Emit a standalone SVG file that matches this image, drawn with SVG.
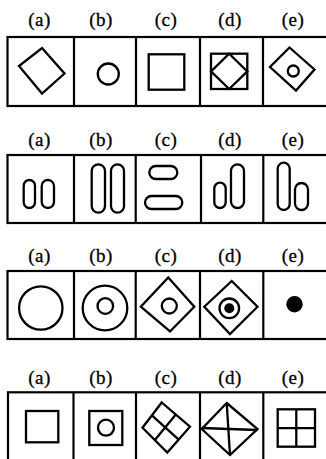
<svg xmlns="http://www.w3.org/2000/svg" width="326" height="459" viewBox="0 0 326 459">
<style>
.bg{fill:#fff}
.frame{fill:none;stroke:#000;stroke-width:2.2}
.s{fill:none;stroke:#000;stroke-width:2.3;stroke-linejoin:miter}
.f{fill:#000}
.lbl{font-family:"Liberation Serif","Times New Roman",serif;font-size:19px;letter-spacing:0.5px;fill:#000;stroke:#000;stroke-width:0.3;text-anchor:middle}
</style>
<rect class="bg" x="0" y="0" width="326" height="459"/>

<!-- Row 1 -->
<g id="row1-labels">
<text class="lbl" x="39.5" y="26">(a)</text>
<text class="lbl" x="101" y="26">(b)</text>
<text class="lbl" x="166" y="26">(c)</text>
<text class="lbl" x="230" y="26">(d)</text>
<text class="lbl" x="293" y="26">(e)</text>
</g>
<g id="row1-frame">
<rect class="frame" x="7.5" y="37" width="330" height="69"/>
<line class="frame" x1="74" y1="37" x2="74" y2="106"/>
<line class="frame" x1="136" y1="37" x2="136" y2="106"/>
<line class="frame" x1="200" y1="37" x2="200" y2="106"/>
<line class="frame" x1="263" y1="37" x2="263" y2="106"/>
</g>
<g id="r1a"><polygon class="s" points="42,48 64.5,73.5 42,93.5 19,66"/></g>
<g id="r1b"><circle class="s" cx="108.3" cy="74" r="10.5"/></g>
<g id="r1c"><rect class="s" x="148.7" y="54.3" width="35.6" height="35.4"/></g>
<g id="r1d"><rect class="s" x="211" y="53.7" width="36.3" height="35.3"/><polygon class="s" points="229.2,53.7 247.3,71.4 229.2,89 211,71.4"/></g>
<g id="r1e"><polygon class="s" points="289.5,47.5 314.5,69.5 296,90.5 270,67"/><circle class="s" cx="293.3" cy="71" r="5.5"/></g>

<!-- Row 2 -->
<g id="row2-labels">
<text class="lbl" x="39.5" y="146">(a)</text>
<text class="lbl" x="101" y="146">(b)</text>
<text class="lbl" x="166" y="146">(c)</text>
<text class="lbl" x="230" y="146">(d)</text>
<text class="lbl" x="293" y="146">(e)</text>
</g>
<g id="row2-frame">
<rect class="frame" x="7.5" y="155" width="330" height="68"/>
<line class="frame" x1="74" y1="155" x2="74" y2="223"/>
<line class="frame" x1="135.7" y1="155" x2="135.7" y2="223"/>
<line class="frame" x1="201" y1="155" x2="201" y2="223"/>
<line class="frame" x1="263.3" y1="155" x2="263.3" y2="223"/>
</g>
<g id="r2a"><rect class="s" x="23.7" y="180" width="11.3" height="28" rx="5.65"/><rect class="s" x="41.7" y="180" width="12.3" height="28" rx="6.15"/></g>
<g id="r2b"><rect class="s" x="91.7" y="164.3" width="13.3" height="48.4" rx="6.65"/><rect class="s" x="111" y="164.3" width="13" height="48.4" rx="6.5"/></g>
<g id="r2c"><rect class="s" x="149.3" y="166" width="28" height="13" rx="6.5"/><rect class="s" x="145" y="196" width="37.3" height="13" rx="6.5"/></g>
<g id="r2d"><rect class="s" x="214.3" y="182.7" width="11.4" height="25.3" rx="5.7"/><rect class="s" x="231" y="164.3" width="13" height="43.7" rx="6.5"/></g>
<g id="r2e"><rect class="s" x="277.7" y="162.7" width="12" height="47.3" rx="6"/><rect class="s" x="295" y="183" width="13" height="27" rx="6.5"/></g>

<!-- Row 3 -->
<g id="row3-labels">
<text class="lbl" x="39.5" y="262">(a)</text>
<text class="lbl" x="101" y="262">(b)</text>
<text class="lbl" x="166" y="262">(c)</text>
<text class="lbl" x="230" y="262">(d)</text>
<text class="lbl" x="293" y="262">(e)</text>
</g>
<g id="row3-frame">
<rect class="frame" x="7.5" y="271" width="330" height="68"/>
<line class="frame" x1="74" y1="271" x2="74" y2="339"/>
<line class="frame" x1="135.7" y1="271" x2="135.7" y2="339"/>
<line class="frame" x1="200" y1="271" x2="200" y2="339"/>
<line class="frame" x1="263.3" y1="271" x2="263.3" y2="339"/>
</g>
<g id="r3a"><circle class="s" cx="40.8" cy="308" r="21.7"/></g>
<g id="r3b"><circle class="s" cx="105" cy="308" r="22.3"/><circle class="s" cx="105.3" cy="306" r="7.8"/></g>
<g id="r3c"><polygon class="s" points="168.3,277.5 194.3,306.7 170,331.5 140.8,306.7"/><circle class="s" cx="169.3" cy="306" r="7.5"/></g>
<g id="r3d"><polygon class="s" points="231.7,281 257.5,306.7 230,334 204.3,306.7"/><circle class="s" cx="229.3" cy="308.3" r="9.8"/><circle class="f" cx="229.3" cy="308.3" r="5"/></g>
<g id="r3e"><circle class="f" cx="294.5" cy="304.3" r="8.2"/></g>

<!-- Row 4 -->
<g id="row4-labels">
<text class="lbl" x="39.5" y="384">(a)</text>
<text class="lbl" x="101" y="384">(b)</text>
<text class="lbl" x="166" y="384">(c)</text>
<text class="lbl" x="230" y="384">(d)</text>
<text class="lbl" x="293" y="384">(e)</text>
</g>
<g id="row4-frame">
<rect class="frame" x="8" y="392.3" width="330" height="80"/>
<line class="frame" x1="73.5" y1="392.3" x2="73.5" y2="470"/>
<line class="frame" x1="136" y1="392.3" x2="136" y2="470"/>
<line class="frame" x1="200" y1="392.3" x2="200" y2="470"/>
<line class="frame" x1="263.3" y1="392.3" x2="263.3" y2="470"/>
</g>
<g id="r4a"><rect class="s" x="26" y="411" width="32.3" height="31.3"/></g>
<g id="r4b"><rect class="s" x="89.3" y="411" width="33" height="34"/><circle class="s" cx="106" cy="427.7" r="8"/></g>
<g id="r4c"><polygon class="s" points="161.7,402.5 190,426.7 167.3,452.5 142.5,427.7"/><line class="s" x1="151.6" y1="415.1" x2="178.7" y2="439.6"/><line class="s" x1="175.8" y1="414.6" x2="154.9" y2="440.1"/></g>
<g id="r4d"><polygon class="s" points="226.7,403 257.5,429 230,455 201.7,429"/><line class="s" x1="226.7" y1="403" x2="230" y2="455"/><line class="s" x1="201.7" y1="428" x2="257.5" y2="430"/></g>
<g id="r4e"><rect class="s" x="277.7" y="409.3" width="37.3" height="37.4"/><line class="s" x1="296.3" y1="409.3" x2="296.3" y2="446.7"/><line class="s" x1="277.7" y1="428.2" x2="315" y2="428.2"/></g>
</svg>
